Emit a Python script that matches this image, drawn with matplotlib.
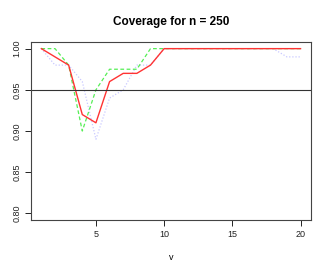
import matplotlib
matplotlib.use('Agg')
import matplotlib.pyplot as plt
from matplotlib import font_manager

names = {f.name for f in font_manager.fontManager.ttflist}
narrow = 'Liberation Sans Narrow' in names
plt.rcParams['font.family'] = ['Liberation Sans Narrow', 'Liberation Sans', 'DejaVu Sans']

v = list(range(1, 21))
cov_red = [1.00, 0.99, 0.98, 0.92, 0.91, 0.96, 0.97, 0.97, 0.98, 1.00,
           1.00, 1.00, 1.00, 1.00, 1.00, 1.00, 1.00, 1.00, 1.00, 1.00]
cov_green = [1.00, 1.00, 0.98, 0.90, 0.95, 0.975, 0.975, 0.975, 1.00, 1.00,
             1.00, 1.00, 1.00, 1.00, 1.00, 1.00, 1.00, 1.00, 1.00, 1.00]
cov_blue = [1.00, 0.98, 0.98, 0.96, 0.89, 0.94, 0.95, 0.98, 0.98, 1.00,
            1.00, 1.00, 1.00, 1.00, 1.00, 1.00, 1.00, 1.00, 0.99, 0.99]
yticks = [0.80, 0.85, 0.90, 0.95, 1.00]
xticks = [5, 10, 15, 20]

fig = plt.figure(figsize=(3.27, 2.73), dpi=100)
ax = fig.add_axes([0.0948, 0.194, 0.856, 0.652])

ax.plot(v, cov_blue, color='#c8c8ff', lw=0.9, ls=(0, (1, 1.5)))
ax.plot(v, cov_green, color='#55ee55', lw=0.9, ls=(0, (3, 2)))
ax.plot(v, cov_red, color='#ff3333', lw=1.0)
ax.axhline(0.95, color='#333333', lw=0.8)

ax.set_xlim(0.24, 20.76)
ax.set_ylim(0.792, 1.008)
ax.set_xticks(xticks)
ax.set_yticks(yticks)
tick_size = 7.5 if narrow else 6.5
ax.set_yticklabels(['%.2f' % t for t in yticks], rotation=90, va='center')
ax.tick_params(direction='out', length=4, width=0.7, labelsize=tick_size, pad=3, colors='#222222')
for s in ax.spines.values():
    s.set_linewidth(0.8)
    s.set_color('#444444')

ax.set_xlabel('v', fontsize=tick_size, labelpad=10)
ax.set_title('Coverage for n = 250', fontsize=10.5 if narrow else 8.5,
             fontweight='bold', pad=12)

fig.savefig('out.png', dpi=100)
